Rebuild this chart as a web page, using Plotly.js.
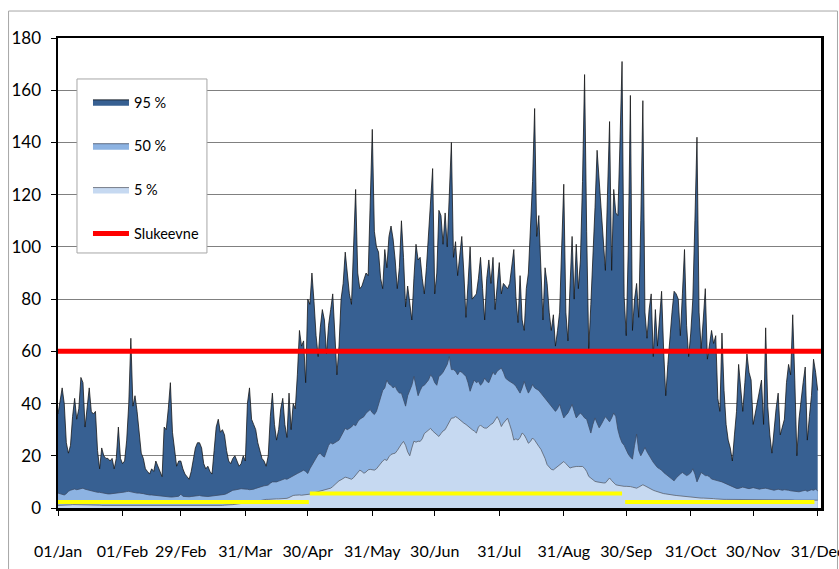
<!DOCTYPE html>
<html><head><meta charset="utf-8">
<script src="https://cdn.plot.ly/plotly-3.0.1.min.js"></script>
<style>html,body{margin:0;padding:0;background:#fff;}#chart{width:839px;height:569px;}</style>
</head><body><div id="chart"></div>
<script>
// ---- data (daily values, leap year) ----
const tickDates = ['2012-01-01','2012-02-01','2012-02-29','2012-03-31','2012-04-30','2012-05-31','2012-06-30','2012-07-31','2012-08-31','2012-09-30','2012-10-31','2012-11-30','2012-12-31'];
const tickLabels = ['01/Jan','01/Feb','29/Feb','31/Mar','30/Apr','31/May','30/Jun','31/Jul','31/Aug','30/Sep','31/Oct','30/Nov','31/Dec'];
const seriesNames = ['95 %','50 %','5 %','Slukeevne'];

const p95 = [
 36,42,46,40,25,21,24,35,42,34,38,50,48,31,40,46,37,36,37,22,15,23,20,19,19,18,19,15,19,31,19,
 17,18,26,40,65,39,43,37,30,21,19,15,14,13,15,14,18,16,14,12,31,30,38,48,29,22,16,18,18,
 15,13,12,11,14,18,23,25,25,23,17,15,16,14,13,22,31,34,29,30,28,22,18,17,19,20,18,16,17,20,18,
 40,46,34,32,30,25,22,19,18,16,20,35,44,32,26,30,38,42,32,27,44,30,40,38,51,68,62,64,48,80,
 78,90,79,66,58,69,76,72,59,70,76,82,67,51,62,80,86,98,90,82,78,100,122,90,84,85,88,90,89,120,145,
 106,100,98,88,84,99,92,104,108,103,95,84,92,110,96,77,85,78,72,88,101,95,96,88,82,92,104,114,130,82,
 90,114,112,101,113,100,118,140,96,102,89,96,104,90,73,86,100,80,81,82,88,96,84,72,88,95,86,96,76,85,94,
 82,86,85,84,86,92,99,81,71,89,72,68,84,90,110,125,153,104,112,90,72,92,86,75,68,74,62,68,75,100,124,
 75,64,85,104,80,101,84,95,125,166,106,61,78,94,115,137,125,113,100,91,120,148,91,122,113,112,140,171,81,66,
 100,158,68,80,86,73,110,156,75,65,76,82,58,76,62,72,83,60,43,55,67,75,83,82,80,66,82,99,70,58,67,
 80,110,142,75,61,72,84,57,62,68,63,66,42,37,67,45,32,26,23,18,28,37,55,45,37,48,59,52,49,32,
 36,41,45,49,32,69,39,28,21,31,38,44,28,31,34,48,55,51,74,49,20,34,42,48,54,26,35,43,57,52,45
];
const p50 = [
 5.7,5.5,5.2,5.0,5.5,6.4,6.8,7.2,7.3,7.0,7.2,7.6,7.6,7.2,7.0,6.8,6.5,6.3,6.2,6.0,6.0,5.8,5.6,5.5,5.4,5.4,5.5,5.6,5.6,5.7,5.7,
 5.9,6.1,6.3,6.4,6.2,6.0,5.8,5.7,5.7,5.7,5.5,5.3,5.1,5.0,5.0,4.9,4.8,4.6,4.5,4.5,4.4,4.3,4.2,4.2,4.2,4.3,4.4,4.5,5.3,
 4.5,4.4,4.3,4.3,4.4,4.5,4.6,4.7,4.8,4.6,4.5,4.5,4.4,4.5,4.6,4.7,4.8,4.9,5.0,5.0,5.2,5.5,6.0,6.4,6.8,6.9,7.1,7.3,7.4,7.3,7.3,
 7.2,7.0,7.0,7.2,7.5,7.8,8.0,8.3,8.5,8.6,8.8,9.5,10.0,10.0,10.0,10.3,10.5,10.8,11.2,11.0,11.5,12.0,12.5,13.0,13.2,13.6,14.0,14.5,14.0,13.2,
 15.0,16.5,17.5,19.0,20.5,21.0,20.0,19.5,21.5,24.0,25.0,24.5,25.0,25.5,26.0,27.5,29.0,30.5,30.0,30.5,31.0,32.0,31.5,33.0,34.0,34.5,35.0,36.3,37.0,37.7,36.5,
 35.8,37.0,40.0,42.0,45.0,46.0,49.0,47.5,47.0,46.0,46.6,45.0,44.0,44.0,41.4,39.0,43.0,45.0,47.0,50.4,47.0,43.0,45.0,46.6,47.0,48.0,49.0,51.0,50.0,48.0,
 47.0,50.4,51.0,52.0,53.6,55.0,58.0,53.0,53.0,52.4,51.0,52.4,52.0,51.0,50.4,48.0,44.7,47.0,49.0,48.0,48.5,47.0,48.0,49.8,48.5,48.0,50.0,52.0,51.0,52.4,53.0,
 53.6,52.0,49.8,49.0,48.5,48.0,47.5,46.6,45.0,44.0,46.0,48.5,46.0,44.0,45.4,47.3,46.0,45.4,45.0,44.0,43.0,42.0,41.0,40.0,39.0,38.0,37.0,38.0,39.7,37.0,34.5,
 35.5,36.4,38.0,39.7,37.0,34.5,35.5,36.4,35.5,34.5,34.0,31.0,28.7,32.0,34.5,32.5,30.7,32.0,33.5,35.0,34.0,33.0,34.5,36.4,35.0,30.0,27.0,25.0,24.0,22.0,
 20.6,19.5,18.7,24.0,28.3,22.0,20.0,21.5,23.2,21.5,20.0,18.5,17.5,16.5,15.5,15.0,14.5,13.6,13.0,12.4,11.5,11.0,10.4,11.5,12.4,13.0,13.6,13.0,12.4,12.8,13.5,
 15.0,13.0,10.0,11.5,13.6,13.0,12.4,12.4,12.0,11.1,10.8,10.5,10.4,10.2,10.0,9.6,9.2,8.8,8.4,8.0,7.6,7.5,7.5,7.8,8.0,7.8,7.6,7.4,7.6,7.8,
 7.6,7.4,7.2,7.4,7.6,7.6,7.4,7.2,7.0,6.8,7.0,7.2,7.0,6.8,7.0,7.0,6.8,6.6,6.5,6.4,6.4,6.2,6.4,6.6,6.8,6.4,6.6,7.0,6.8,7.2,6.6
];
const p5 = [
 1.0,1.0,1.1,1.1,1.2,1.2,1.2,1.3,1.3,1.3,1.3,1.3,1.3,1.2,1.2,1.2,1.2,1.1,1.1,1.1,1.1,1.0,1.0,1.0,1.0,1.0,1.0,1.0,1.0,1.0,1.0,
 1.0,1.0,1.0,1.0,1.0,1.0,1.0,0.9,0.9,0.9,0.9,0.9,0.9,0.9,0.8,0.8,0.8,0.8,0.8,0.8,0.8,0.8,0.8,0.8,0.8,0.8,0.8,0.8,0.8,
 0.8,0.8,0.8,0.8,0.8,0.8,0.8,0.9,0.9,0.9,0.9,0.9,0.9,0.9,1.0,1.0,1.0,1.0,1.0,1.0,1.1,1.1,1.2,1.2,1.3,1.4,1.5,1.6,1.7,1.8,1.8,
 1.9,2.0,2.1,2.2,2.4,2.6,2.8,3.0,3.2,3.3,3.3,3.4,3.4,3.4,3.5,3.5,3.5,3.6,3.6,3.7,4.0,4.5,4.8,4.9,5.0,5.0,4.9,5.0,5.0,5.0,
 5.3,5.6,5.8,6.0,6.2,6.5,6.8,7.0,7.2,7.4,7.6,8.2,9.0,9.8,10.4,10.8,11.2,11.8,11.6,11.2,11.0,11.6,12.5,13.5,14.5,14.0,13.3,13.8,14.6,14.8,14.6,
 14.5,15.0,16.0,17.2,18.0,18.6,18.2,19.6,20.5,20.8,21.0,22.0,23.5,24.5,25.5,24.0,21.5,20.0,23.0,25.6,25.2,25.6,25.5,26.5,28.5,29.3,30.0,30.5,29.5,28.7,
 28.0,27.4,28.5,29.5,30.0,31.5,33.0,34.4,34.5,35.0,34.5,33.8,33.0,32.5,32.0,31.2,30.5,30.0,29.5,28.7,31.0,31.8,31.0,30.6,30.6,31.5,32.0,32.5,34.0,35.0,33.5,
 31.2,32.5,33.5,34.4,32.0,29.5,26.0,26.5,26.0,27.0,28.7,28.0,26.5,24.8,25.5,26.8,26.0,24.5,23.6,22.5,21.0,19.0,16.6,15.5,14.8,14.6,15.3,16.0,16.6,17.2,17.8,
 17.0,16.0,15.3,15.6,15.9,15.9,15.9,16.0,15.9,15.2,14.0,12.1,11.5,10.8,10.2,10.0,9.8,9.7,9.6,9.6,10.5,11.5,10.5,9.5,8.9,8.7,8.5,8.3,8.3,8.3,
 8.3,8.2,8.0,7.8,7.6,8.0,8.6,8.9,8.5,8.0,7.5,7.0,6.8,6.5,6.2,6.0,5.7,5.5,5.4,5.2,5.1,5.0,4.9,4.8,4.7,4.6,4.5,4.5,4.4,4.3,4.2,
 4.1,4.0,3.9,3.8,3.8,3.8,3.8,3.8,3.8,3.7,3.6,3.5,3.4,3.4,3.4,3.3,3.3,3.3,3.2,3.2,3.2,3.2,3.2,3.2,3.2,3.2,3.2,3.2,3.2,3.2,
 3.2,3.2,3.2,3.2,3.2,3.2,3.2,3.2,3.1,3.1,3.1,3.1,3.1,3.1,3.1,3.1,3.1,3.1,3.1,3.0,3.0,3.0,3.0,3.0,3.0,3.0,3.0,3.0,3.0,3.0,3.0
];
const slukeevne = 60;
const yellowX = ['2012-01-01','2012-04-30 12:00',null,'2012-05-01','2012-09-28',null,'2012-09-29 12:00','2012-12-29 10:00'];
const yellowY = [2.3,2.3,null,5.6,5.6,null,2.3,2.3];
const xRange = ['2012-01-01','2013-01-01 14:00'];

// x positions: one per day starting 1 Jan 2012
const days = p95.map((_, i) => new Date(Date.UTC(2012, 0, 1 + i)).toISOString().slice(0, 10));

const FONT = 'Lato, "Open Sans", sans-serif';
const C95 = '#376092', C50 = '#8DB3E2', C5 = '#C6D9F1';

const traces = [
  {x: days, y: p95, name: seriesNames[0], type: 'scatter', mode: 'lines', fill: 'tozeroy',
   fillcolor: C95, line: {color: '#111111', width: 0.75}, legendgroup: 'a', hoverinfo: 'skip'},
  {x: days, y: p50, name: seriesNames[1], type: 'scatter', mode: 'lines', fill: 'tozeroy',
   fillcolor: C50, line: {color: '#3b4a63', width: 0.75}, legendgroup: 'b', hoverinfo: 'skip'},
  {x: days, y: p5, name: seriesNames[2], type: 'scatter', mode: 'lines', fill: 'tozeroy',
   fillcolor: C5, line: {color: '#555b66', width: 0.75}, legendgroup: 'c', hoverinfo: 'skip'},
  {x: xRange, y: [slukeevne, slukeevne], name: seriesNames[3], type: 'scatter', mode: 'lines',
   line: {color: '#FF0000', width: 5}, legendgroup: 'd', hoverinfo: 'skip'},
  {x: yellowX, y: yellowY, type: 'scatter', mode: 'lines', connectgaps: false, showlegend: false,
   line: {color: '#FFFF00', width: 4}, hoverinfo: 'skip'}
];

const layout = {
  width: 839, height: 569,
  margin: {l: 58, r: 17.5, t: 38, b: 61},
  paper_bgcolor: '#ffffff', plot_bgcolor: '#ffffff',
  font: {family: FONT, color: '#000000'},
  showlegend: true,
  xaxis: {
    type: 'date', range: xRange, tickvals: tickDates, ticktext: tickLabels,
    ticks: 'outside', ticklen: 5, tickwidth: 1, tickcolor: '#000',
    showgrid: false, zeroline: false,
    showline: true, linecolor: '#000', linewidth: 2.5, mirror: true,
    tickfont: {family: FONT, size: 16, color: '#000'}, ticklabelstandoff: 22,
    ticklabeloverflow: 'allow'
  },
  yaxis: {
    range: [0, 180], tickvals: [0,20,40,60,80,100,120,140,160,180],
    ticks: 'outside', ticklen: 5, tickwidth: 1, tickcolor: '#000',
    showgrid: true, gridcolor: '#808080', gridwidth: 1, zeroline: false,
    showline: true, linecolor: '#000', linewidth: 2.5, mirror: true,
    tickfont: {family: FONT, size: 17, color: '#000'}, ticklabelstandoff: 6
  },
  legend: {
    x: 0.0393, y: 0.898, xanchor: 'left', yanchor: 'top',
    bgcolor: 'rgba(0,0,0,0)', borderwidth: 0,
    font: {family: FONT, size: 14.5, color: '#000'},
    itemwidth: 36, traceorder: 'grouped', tracegroupgap: 22
  },
  shapes: [
    {type: 'rect', xref: 'paper', yref: 'paper', x0: -0.0648, x1: 1.0216, y0: -0.2, y1: 1.0574,
     line: {color: '#a6a6a6', width: 1}, fillcolor: 'rgba(0,0,0,0)', layer: 'below'},
    {type: 'rect', xref: 'paper', yref: 'paper', x0: 0.0249, x1: 0.1952, y0: 0.5426, y1: 0.9128,
     line: {color: '#a6a6a6', width: 1}, fillcolor: '#ffffff', layer: 'above'}
  ]
};

Plotly.newPlot('chart', traces, layout, {displayModeBar: false, staticPlot: true});
</script></body></html>
